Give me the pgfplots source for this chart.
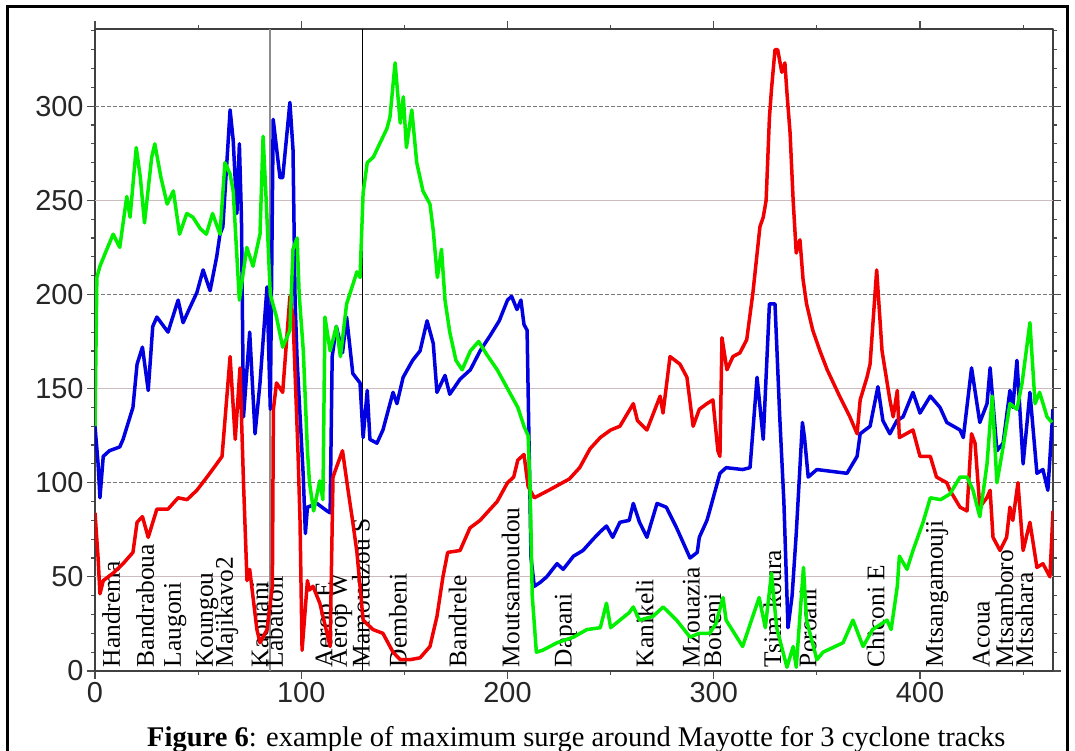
\documentclass[border=0pt]{standalone}
\usepackage{pgfplots}
\pgfplotsset{compat=1.18}
\usepackage{fontspec}
\setmainfont{Liberation Serif}
\newfontfamily\hv{Liberation Sans}
\definecolor{cred}{RGB}{240,0,0}
\definecolor{cblue}{RGB}{0,0,225}
\definecolor{cgreen}{RGB}{0,240,0}
\definecolor{gridlight}{RGB}{205,188,190}
\definecolor{griddark}{RGB}{120,120,120}
\begin{document}
\begin{tikzpicture}[x=1bp,y=1bp]
\path[use as bounding box] (0,0) rectangle (1075,751);
\draw[line width=3bp] (7,-5) -- (7,744) -- (1067,744) -- (1067,-5);
\begin{axis}[
 at={(95bp,80bp)}, anchor=south west,
 scale only axis, width=958bp, height=642bp,
 xmin=0, xmax=464.5, ymin=0, ymax=341,
 xtick={0,100,...,400}, minor xtick={50,150,...,450},
 ytick={0,50,...,300}, minor ytick={10,20,...,340},
 tick align=outside, major tick length=8bp, minor tick length=4bp,
 tick style={black!70, line width=1.2bp},
 axis line style={black!75, line width=2.5bp},
 ticklabel style={font=\hv\fontsize{29}{29}\selectfont},
 /pgf/number format/assume math mode=true,
 every tick label/.append style={text=black!85},
 line join=round,
]
\draw[gridlight, line width=1bp] (axis cs:0,50) -- (axis cs:464.5,50);
\draw[gridlight, line width=1bp] (axis cs:0,150) -- (axis cs:464.5,150);
\draw[gridlight, line width=1bp] (axis cs:0,250) -- (axis cs:464.5,250);
\draw[griddark, line width=1bp, dash pattern=on 4bp off 2bp] (axis cs:0,100) -- (axis cs:464.5,100);
\draw[griddark, line width=1bp, dash pattern=on 4bp off 2bp] (axis cs:0,200) -- (axis cs:464.5,200);
\draw[griddark, line width=1bp, dash pattern=on 4bp off 2bp] (axis cs:0,300) -- (axis cs:464.5,300);
\draw[black!45, line width=1.5bp] (axis cs:84.8,0) -- (axis cs:84.8,341);
\draw[black, line width=1bp] (axis cs:129.5,0) -- (axis cs:129.5,341);

% station labels
\foreach \xx/\nm in {10.9/Handrema,27.4/Bandraboua,40.5/Laugoni,56/Koungou,65.7/Majikavo2,
 83/Kaouani,90/Labattoir,114/Aerop E,121/Aerop W,132/Mamoudzou S,
 150/Dembeni,179/Bandrele,204.6/Moutsamoudou,230/Dapani,269.6/Kanikeli,
 292/Mzouazia,302.5/Boueni,331.6/Tsim-koura,348.6/Poroani,381.6/Chiconi E,
 410/Mtsangamouji,432.7/Acoua,444/Mtsamboro,453.8/Mtsahara}{
 \edef\temp{\noexpand\node[rotate=90, anchor=mid west, inner sep=0pt, font=\noexpand\fontsize{25.5}{25.5}\noexpand\selectfont] at (axis cs:\xx,2) {\nm};}
 \temp
}

\addplot[cblue, line width=3.5bp, mark=none] coordinates {
(0,130) (1.5,110) (2.4,92) (4,114) (7,117) (12,119) (13.6,123) (18.4,140) (20.4,163) (23,172) (25.8,149) (28,183) (30,188) (35.4,180) (40.3,197) (42.7,185) (46,193) (49.4,201) (52.4,213) (55.8,202) (59,220) (60.6,232) (62,236) (65.5,298) (67,282) (68.8,243) (70,280) (71,241) (72,135) (75,180) (77.6,126) (80,153) (83.4,204) (85,139) (86.4,293) (89.7,262) (91,262) (94.5,302) (96,277) (97,197) (98,165) (101,103) (102,73) (103,87) (107.6,89) (112.5,85) (114,84) (115,167) (117,183) (120,169) (122,188) (125,158) (128.5,153) (130,124) (132,149) (133.3,123) (136.7,121) (139.6,128) (144.5,148) (146.4,142) (149.4,156) (154,165) (157.6,170) (161,186) (164,174) (165.8,148) (169.7,157) (172,147) (177,155) (182,160) (186.7,170) (191.5,178) (196,186) (200,197) (202,199) (204.6,192) (206.5,197) (208,184) (209.5,181) (211.4,60) (213,45) (215.8,47) (219,50) (224,57) (227,54) (232,61) (236.6,64) (241.5,70) (245,74) (248,77) (251,71) (254.5,79) (259,80) (261,89) (264,79) (267.6,71) (272.5,89) (277,87) (282,76) (288.5,60) (292,63) (293,71) (296.7,80) (298,85) (303,105) (306,108) (314,107) (317.6,108) (321,156) (324,123) (327,195) (329.7,195) (332,135) (334,90) (336,23) (338,40) (340,73) (343,132) (344,124) (345.8,103) (350,107) (364.6,105) (369.5,114) (371,126) (375.8,130) (379.6,151) (382,133) (385.4,126) (388.8,133) (391.8,135) (396.6,148) (400,137) (405,146) (409.7,140) (413,132) (419.4,128) (421,124) (425,161) (429,132) (432.5,142) (434,161) (437.3,117) (440.3,121) (443.6,149) (445,140) (447,165) (450,110) (453.3,148) (456.7,105) (459.6,107) (462,96) (464.5,139)
};
\addplot[cred, line width=3.5bp, mark=none] coordinates {
(0,84) (1.5,60) (2.4,41) (4,48) (8.8,52) (13.6,57) (18.4,63) (20.4,79) (23,82) (25.8,71) (30,86) (35.4,86) (40.3,92) (44.6,91) (49.4,96) (54.3,103) (59,110) (61.6,114) (65.5,167) (68,123) (70.3,161) (72,100) (73.7,48) (75,54) (78.5,22) (80,15) (83.4,22) (86,45) (86.5,139) (88,153) (91,148) (94.5,199) (96,188) (98.4,117) (99.4,80) (100.4,11) (103,48) (104,43) (105.7,45) (109,36) (112.5,20) (114,13) (115.4,103) (117,108) (120,117) (122.7,96) (125,79) (127,63) (130,27) (134.8,22) (139.6,20) (144.5,10) (148,6) (152.7,6) (157.6,7) (162.4,13) (165.8,29) (168.7,50) (171,63) (177,64) (179.4,70) (181.8,76) (186.7,80) (190,84) (195,90) (200,100) (203,103) (205,112) (208,115) (210,98) (213,92) (220,96) (230,102) (235,108) (240,118) (245,124) (250,128) (254.5,130) (261,142) (263,133) (267.6,128) (274,146) (275.4,137) (278.8,167) (283.6,163) (287,156) (290,130) (293,139) (296.7,142) (299.6,144) (302,117) (303,114) (304,177) (306.4,160) (309.3,167) (312.7,169) (316,176) (319,201) (322.4,236) (324,241) (325.4,250) (327,294) (328,309) (329.7,330) (331,330) (333,318) (334.5,323) (335.5,307) (337,286) (338.5,250) (340,222) (341.8,229) (343.3,208) (345,195) (348,181) (351.5,170) (355,160) (361,146) (366,135) (369.5,126) (371,144) (374.3,156) (375.8,163) (379,213) (381.6,170) (385.4,144) (387,135) (389,149) (390,124) (396.6,128) (400,114) (405,114) (408,103) (413,100) (414.5,96) (419.4,87) (422.8,85) (425,126) (426.7,121) (429,87) (432.4,92) (434,96) (435.4,71) (438.8,64) (442,71) (443.6,87) (445,80) (447.5,100) (450,64) (453.3,79) (456.7,55) (459.6,57) (463,50) (464.5,85)
};
\addplot[cgreen, line width=3.5bp, mark=none] coordinates {
(0,130) (0.9,209) (2.4,215) (5,222) (8.8,232) (12,225) (15.4,252) (17,241) (20,278) (22,262) (24,238) (27.5,273) (29,280) (32,262) (35,248) (38,255) (41,232) (44.5,243) (47.5,241) (51,235) (54,232) (57,243) (60.6,232) (63,270) (65.5,264) (67,255) (70,197) (73.6,225) (76.6,215) (80,232) (81.5,284) (83,250) (85,200) (88,188) (91,172) (94.5,181) (96,224) (98,230) (99,200) (101,170) (103,117) (104,100) (106,85) (109,101) (110.5,91) (111.5,188) (114,170) (117,183) (119,167) (122,195) (127,212) (128.5,209) (130,254) (132,270) (135,273) (138,280) (141.5,288) (143,294) (145.5,323) (148,291) (149.5,305) (151,278) (153.6,298) (156,270) (159,255) (162.4,248) (164,234) (166,209) (168,224) (169.7,197) (172,180) (175,165) (178,160) (182,170) (186,175) (190,168) (195,160) (200,150) (205,140) (208,130) (210,125) (211,95) (212,40) (214,10) (217,11) (224,15) (232,18) (238.5,22) (245,23) (248,36) (250,23) (254.5,27) (259,31) (261,34) (264,27) (270.5,29) (275.5,34) (282,27) (288.5,18) (293,20) (298,20) (301,25) (304.5,39) (306,27) (314,13) (322,39) (325,23) (328,52) (330.5,23) (335.5,2) (338.5,13) (340,2) (343.5,55) (345,27) (350,6) (353,10) (362.7,15) (367.5,27) (372.4,13) (377,22) (384,27) (386,22) (389,45) (390,61) (393.7,54) (396.6,64) (401.5,79) (405,92) (410,91) (414.5,94) (419.4,103) (422.8,103) (425.7,96) (429,82) (432.5,110) (435,146) (437.3,100) (440.3,119) (443.6,142) (447,139) (449.5,153) (453.3,185) (455.8,142) (458,148) (461.6,135) (464,132)
};
\end{axis}
\node[anchor=base west, inner sep=0pt] at (147,4) {\fontsize{28.6}{30}\selectfont\textbf{Figure 6}: example of maximum surge around Mayotte for 3 cyclone tracks};
\end{tikzpicture}
\end{document}
